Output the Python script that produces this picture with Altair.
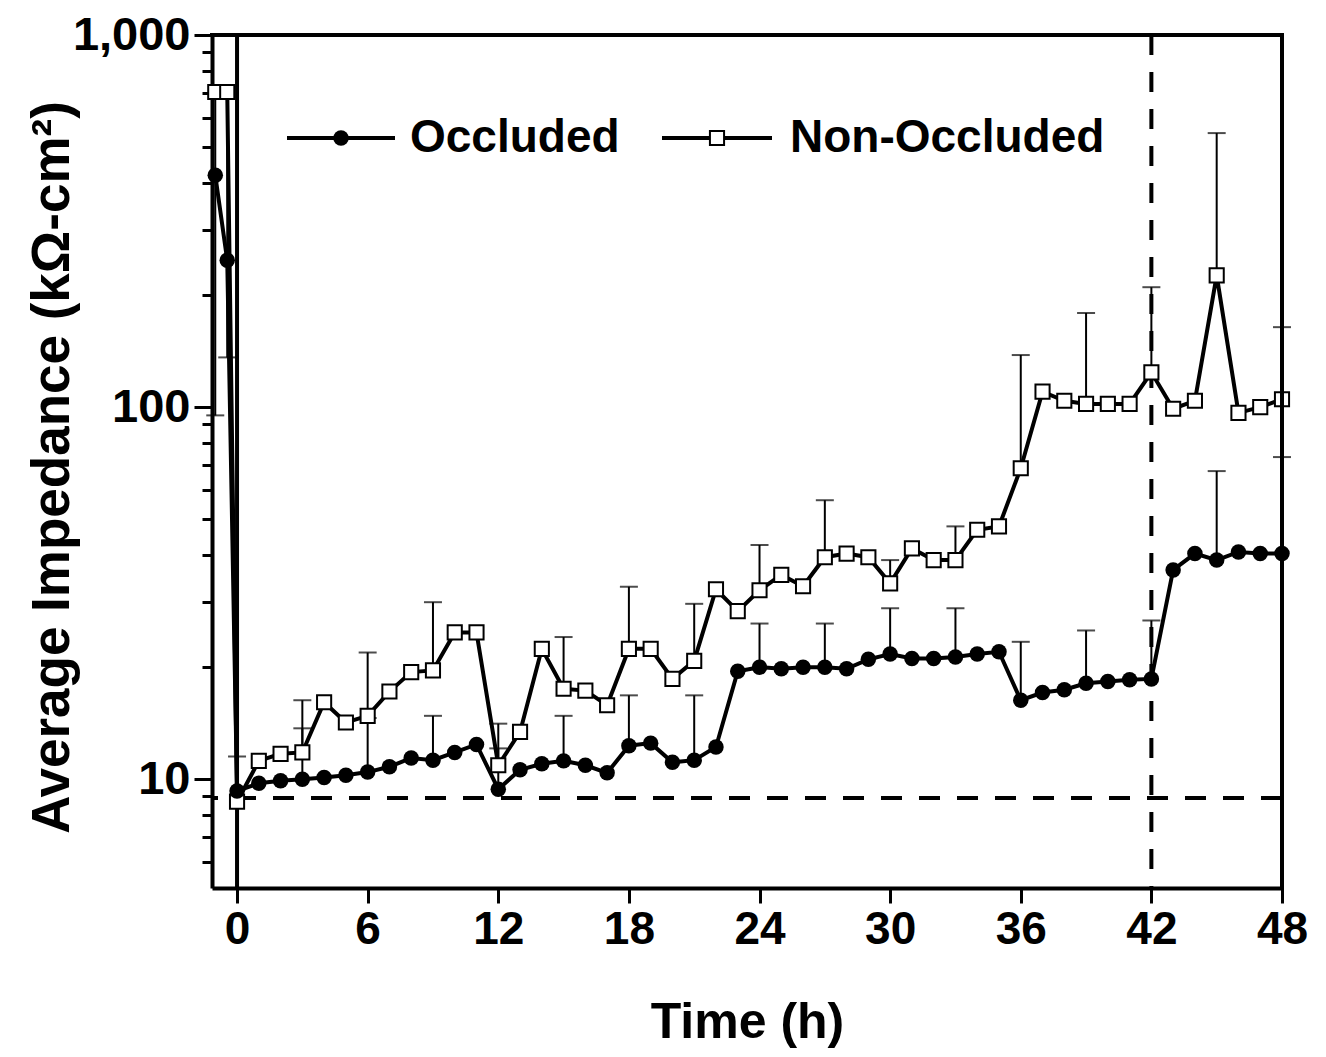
import altair as alt
import pandas as pd

# ---------------- data ----------------
hours = [-1.0, -0.45] + list(range(0, 49))

occluded = [420, 248, 9.3, 9.75, 9.9, 10.0, 10.1, 10.25, 10.45, 10.8, 11.4,
            11.25, 11.8, 12.4, 9.4, 10.6, 11.0, 11.2, 10.9, 10.4, 12.3,
            12.5, 11.1, 11.25, 12.2, 19.5, 20.0, 19.8, 20.0, 20.0, 19.8,
            21.0, 21.7, 21.1, 21.1, 21.3, 21.7, 22.0, 16.3, 17.1, 17.4,
            18.1, 18.3, 18.5, 18.6, 36.5, 40.4, 38.8, 40.8, 40.4, 40.4]

non_occluded = [703, 703, 8.7, 11.2, 11.7, 11.8, 16.1, 14.2, 14.8, 17.2, 19.4,
                19.6, 24.8, 24.8, 10.9, 13.4, 22.4, 17.5, 17.3, 15.8, 22.4,
                22.4, 18.6, 20.8, 32.4, 28.3, 32.2, 35.4, 33.0, 39.5, 40.4,
                39.5, 33.6, 41.7, 38.8, 38.8, 46.8, 47.8, 68.5, 110, 104,
                102, 102, 102, 124, 99, 104, 226, 96.5, 100, 105]

# error bars (upper caps every 3 h)
occ_err_hours = [3, 6, 9, 12, 15, 18, 21, 24, 27, 30, 33, 36, 39, 42, 45]
occ_err_top = [13.7, 14.6, 14.8, 12.1, 14.8, 16.8, 16.8, 26.2, 26.2, 28.8,
               28.8, 23.4, 25.1, 26.7, 67.3]

non_err_hours = [0, 3, 6, 9, 12, 15, 18, 21, 24, 27, 30, 33, 36, 39, 42, 45, 48]
non_err_top = [11.5, 16.3, 21.9, 29.9, 14.1, 24.1, 32.9, 29.6, 42.6, 56.2,
               38.8, 47.8, 138, 179, 210, 545, 164]

# lower error bars (non-occluded)
non_low_hours = [-1.0, -0.45, 48]
non_low_bottom = [95, 136, 73.4]

baseline_value = 8.9
occlusion_end = 42
start_time = 0

x_ticks = [0, 6, 12, 18, 24, 30, 36, 42, 48]
y_major = [10, 100, 1000]
y_minor = [6, 7, 8, 9, 20, 30, 40, 50, 60, 70, 80, 90,
           200, 300, 400, 500, 600, 700, 800, 900]

legend_labels = ["Occluded", "Non-Occluded"]

# ---------------- tables ----------------
occ_lookup = dict(zip(hours, occluded))
non_lookup = dict(zip(hours, non_occluded))

df = pd.DataFrame({
    "t": hours * 2,
    "v": occluded + non_occluded,
    "series": ["Occluded"] * len(hours) + ["Non-Occluded"] * len(hours),
})
df_occ = df[df.series == "Occluded"]
df_non = df[df.series == "Non-Occluded"]

err_rows = []
for h, top in zip(occ_err_hours, occ_err_top):
    err_rows.append({"t": h, "lo": occ_lookup[h], "hi": top})
for h, top in zip(non_err_hours, non_err_top):
    err_rows.append({"t": h, "lo": non_lookup[h], "hi": top})
for h, bot in zip(non_low_hours, non_low_bottom):
    err_rows.append({"t": h, "lo": bot, "hi": non_lookup[h]})
err_df = pd.DataFrame(err_rows)
cap_df = pd.DataFrame(
    [{"t": h, "c": top} for h, top in zip(occ_err_hours, occ_err_top)]
    + [{"t": h, "c": top} for h, top in zip(non_err_hours, non_err_top)]
    + [{"t": h, "c": b} for h, b in zip(non_low_hours, non_low_bottom)]
)

FONT = "Liberation Sans"
W, H = 1070, 853
major_test = " || ".join(f"datum.value == {v}" for v in y_major)

x_scale = alt.Scale(domain=[-1.15, 48], nice=False, zero=False)
y_scale = alt.Scale(type="log", domain=[5.1, 1000], nice=False)

x_axis = alt.Axis(
    values=x_ticks, title="Time (h)", grid=False,
    labelFont=FONT, labelFontWeight="bold", labelFontSize=46, labelColor="black",
    labelPadding=4, labelFlush=False, labelOverlap=False,
    tickSize=15, tickWidth=3, tickColor="black",
    domainWidth=4, domainColor="black",
    titleFont=FONT, titleFontWeight="bold", titleFontSize=50, titleColor="black",
    titleX=535, titleY=134, titleBaseline="middle", titleAlign="center",
)
y_axis = alt.Axis(
    values=y_minor + y_major, title="Average Impedance (kΩ-cm²)", grid=False,
    labelExpr="datum.value == 1000 ? '1,000' : (datum.value == 100 ? '100' : (datum.value == 10 ? '10' : ''))",
    labelFont=FONT, labelFontWeight="bold", labelFontSize=47, labelColor="black",
    labelPadding=4, labelFlush=False, labelOverlap=False,
    tickSize={"condition": {"test": major_test, "value": 18}, "value": 10},
    tickWidth=3, tickColor="black",
    domainWidth=4, domainColor="black",
    titleFont=FONT, titleFontWeight="bold", titleFontSize=53, titleColor="black",
    titleX=-160, titleY=432, titleAngle=270, titleBaseline="middle", titleAlign="center",
)

X = alt.X("t:Q", scale=x_scale, axis=x_axis)

# reference lines
vzero = alt.Chart(pd.DataFrame({"t": [start_time]})).mark_rule(
    color="black", strokeWidth=4).encode(x=alt.X("t:Q", scale=x_scale, axis=x_axis))
vdash = alt.Chart(pd.DataFrame({"t": [occlusion_end]})).mark_rule(
    color="black", strokeWidth=4, strokeDash=[20, 17]).encode(x=alt.X("t:Q", scale=x_scale, axis=x_axis))
hdash = alt.Chart(pd.DataFrame({"v": [baseline_value]})).mark_rule(
    color="black", strokeWidth=4, strokeDash=[21, 17]).encode(y=alt.Y("v:Q", scale=y_scale, axis=y_axis))

# frame (top and right)
frame_df = pd.DataFrame({"k": [0]})
frame_top = alt.Chart(frame_df).mark_rule(color="black", strokeWidth=4).encode(
    x=alt.value(-2), x2=alt.value(W + 2), y=alt.value(0))
frame_right = alt.Chart(frame_df).mark_rule(color="black", strokeWidth=4).encode(
    x=alt.value(W), y=alt.value(-2), y2=alt.value(H + 2))

err = alt.Chart(err_df).mark_rule(color="black", strokeWidth=2).encode(
    x=X, y=alt.Y("lo:Q", scale=y_scale, axis=y_axis), y2="hi:Q")
caps = alt.Chart(cap_df).mark_tick(
    color="black", orient="horizontal", size=18, thickness=2).encode(
    x=X, y=alt.Y("c:Q", scale=y_scale, axis=y_axis))

Y = alt.Y("v:Q", scale=y_scale, axis=y_axis)

CIRCLE = 240
SQUARE = 200
line_non = alt.Chart(df_non).mark_line(color="black", strokeWidth=4).encode(x=X, y=Y)
line_occ = alt.Chart(df_occ).mark_line(color="black", strokeWidth=4).encode(x=X, y=Y)
pts_occ = alt.Chart(df_occ).mark_point(
    shape="circle", filled=True, color="black", size=CIRCLE, opacity=1).encode(x=X, y=Y)
pts_non = alt.Chart(df_non).mark_point(
    shape="square", filled=True, fill="white", stroke="black", strokeWidth=2,
    size=SQUARE, opacity=1).encode(x=X, y=Y)

# legend (manual, inside plot)
one = pd.DataFrame({"label": [legend_labels[0]]})
two = pd.DataFrame({"label": [legend_labels[1]]})
LY = 103
leg = [
    alt.Chart(one).mark_rule(color="black", strokeWidth=4).encode(
        x=alt.value(75), x2=alt.value(183), y=alt.value(LY)),
    alt.Chart(one).mark_point(shape="circle", filled=True, color="black", size=CIRCLE, opacity=1).encode(
        x=alt.value(129), y=alt.value(LY)),
    alt.Chart(one).mark_text(font=FONT, fontWeight="bold", fontSize=46, align="left",
                             baseline="middle", color="black").encode(
        x=alt.value(198), y=alt.value(LY), text="label:N"),
    alt.Chart(two).mark_rule(color="black", strokeWidth=4).encode(
        x=alt.value(450), x2=alt.value(560), y=alt.value(LY)),
    alt.Chart(two).mark_point(shape="square", filled=True, fill="white", stroke="black",
                              strokeWidth=2, size=SQUARE, opacity=1).encode(
        x=alt.value(505), y=alt.value(LY)),
    alt.Chart(two).mark_text(font=FONT, fontWeight="bold", fontSize=46, align="left",
                             baseline="middle", color="black").encode(
        x=alt.value(578), y=alt.value(LY), text="label:N"),
]

chart = alt.layer(
    hdash, vdash, vzero, err, caps, line_non, line_occ, pts_non, pts_occ,
    frame_top, frame_right, *leg
).properties(
    width=W, height=H,
    autosize=alt.AutoSizeParams(type="none"),
    padding={"left": 204, "top": 27, "right": 36, "bottom": 167},
).configure_view(
    stroke="black", strokeWidth=4
).configure(background="white")

chart.save("out.html", embed_options={"renderer": "svg", "actions": False})
